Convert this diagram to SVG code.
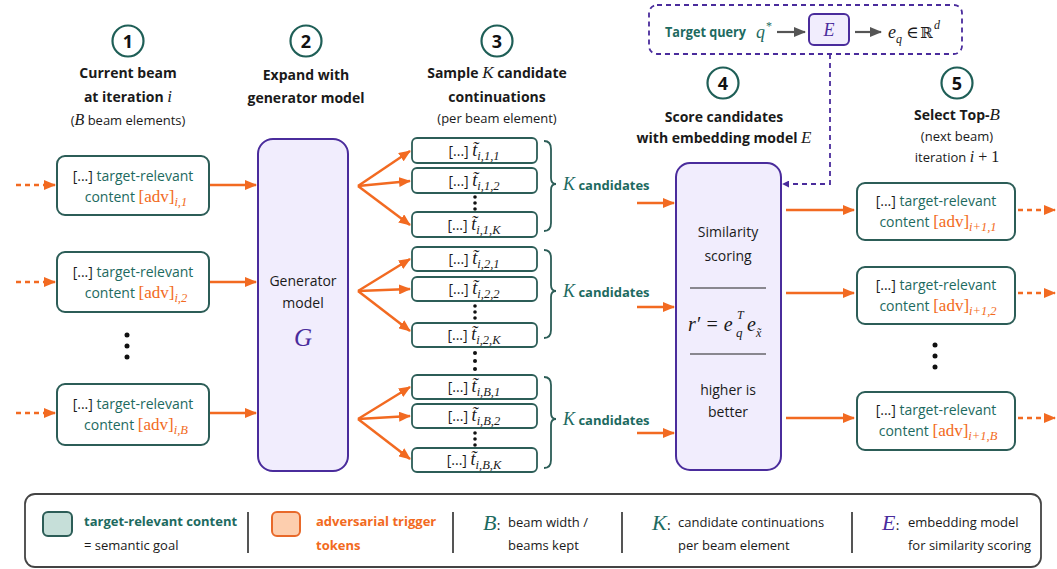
<svg xmlns="http://www.w3.org/2000/svg" width="1057" height="569" viewBox="0 0 1057 569">
<defs>
<style>
.sans{font-family:"Open Sans","Noto Sans","DejaVu Sans",sans-serif}
.math{font-family:"Liberation Serif","DejaVu Serif",serif;font-style:italic}
.rom{font-family:"Liberation Serif","DejaVu Serif",serif}
.b{font-weight:bold}
.teal{fill:#1d6a60}
.org{fill:#f26a21}
.pur{fill:#4a2c9c}
.blk{fill:#1a1a1a}
.step circle{fill:#fff;stroke:#1f5f57;stroke-width:2.2}
.step text{font-family:"Open Sans","Noto Sans",sans-serif;font-weight:bold;font-size:18px;fill:#111;text-anchor:middle}
.beam{fill:#fff;stroke:#2c5d57;stroke-width:2}
.cand{fill:#fff;stroke:#2c5d57;stroke-width:1.8}
.model{fill:#f1edfd;stroke:#4a2c9c;stroke-width:2}
.arr{stroke:#f26a21;stroke-width:2.5;fill:none;marker-end:url(#ah)}
.darr{stroke:#f26a21;stroke-width:2.5;fill:none;stroke-dasharray:5 4;marker-end:url(#ah)}
.brace{fill:none;stroke:#2c5d57;stroke-width:1.8}
.div{stroke:#555;stroke-width:2}
.sub{font-family:"Liberation Serif","DejaVu Serif",serif;font-style:italic;font-size:12.5px}
</style>
<marker id="ah" viewBox="0 0 12 10" refX="11" refY="5" markerWidth="12" markerHeight="10" markerUnits="userSpaceOnUse" orient="auto"><path d="M0,0 L12,5 L0,10 z" fill="#f26a21"/></marker>
<marker id="ahg" viewBox="0 0 12 10" refX="11" refY="5" markerWidth="12" markerHeight="10" markerUnits="userSpaceOnUse" orient="auto"><path d="M0,0 L12,5 L0,10 z" fill="#555"/></marker>
<marker id="ahp" viewBox="0 0 8 8" refX="7" refY="4" markerWidth="7" markerHeight="7" markerUnits="userSpaceOnUse" orient="auto"><path d="M0,0 L8,4 L0,8 z" fill="#4a2c9c"/></marker>
</defs>
<rect width="1057" height="569" fill="#fff"/>

<!-- step headers -->
<g id="step1" class="step"><circle cx="128" cy="41" r="15.5"/><text x="128" y="48">1</text></g>
<g id="step2" class="step"><circle cx="306" cy="41" r="15.5"/><text x="306" y="48">2</text></g>
<g id="step3" class="step"><circle cx="497" cy="41" r="15.5"/><text x="497" y="48">3</text></g>
<g id="step4" class="step"><circle cx="723" cy="83" r="15.5"/><text x="723" y="90">4</text></g>
<g id="step5" class="step"><circle cx="957" cy="83" r="15.5"/><text x="957" y="90">5</text></g>

<g id="titles" text-anchor="middle">
<text x="128" y="78" class="sans b blk" font-size="14">Current beam</text>
<text x="128" y="102" class="sans b blk" font-size="14">at iteration <tspan class="math" font-weight="normal" font-size="17">i</tspan></text>
<text x="128" y="125" class="sans blk" font-size="13">(<tspan class="math" font-size="16">B</tspan> beam elements)</text>
<text x="306" y="80" class="sans b blk" font-size="14">Expand with</text>
<text x="306" y="103" class="sans b blk" font-size="14">generator model</text>
<text x="497" y="78" class="sans b blk" font-size="14">Sample <tspan class="math" font-weight="normal" font-size="17">K</tspan> candidate</text>
<text x="497" y="102" class="sans b blk" font-size="14">continuations</text>
<text x="497" y="123" class="sans blk" font-size="13">(per beam element)</text>
<text x="724" y="122" class="sans b blk" font-size="14">Score candidates</text>
<text x="724" y="143" class="sans b blk" font-size="14">with embedding model <tspan class="math" font-weight="normal" font-size="17">E</tspan></text>
<text x="957" y="120" class="sans b blk" font-size="14">Select Top-<tspan class="math" font-weight="normal" font-size="17">B</tspan></text>
<text x="957" y="141" class="sans blk" font-size="13">(next beam)</text>
<text x="957" y="162" class="sans blk" font-size="13">iteration <tspan class="math" font-size="16">i</tspan><tspan class="rom" font-size="16"> + 1</tspan></text>
</g>

<!-- query box -->
<g id="query">
<rect x="649" y="5" width="313" height="49" rx="8" fill="none" stroke="#4a2c9c" stroke-width="1.8" stroke-dasharray="5 4"/>
<text x="665" y="37" class="sans b teal" font-size="14" textLength="81" lengthAdjust="spacingAndGlyphs">Target query</text>
<text x="756" y="38" class="math teal" font-size="18">q</text>
<text x="766" y="30" class="rom teal" font-size="12">*</text>
<line x1="777" y1="32" x2="805" y2="32" stroke="#555" stroke-width="2.2" marker-end="url(#ahg)"/>
<line x1="855" y1="32" x2="881" y2="32" stroke="#555" stroke-width="2.2" marker-end="url(#ahg)"/>
<text x="888" y="38" class="math blk" font-size="18">e</text>
<text x="896" y="43" class="math blk" font-size="12">q</text>
<text x="906" y="38" class="rom blk" font-size="17">∈</text>
<text x="920" y="38" font-family="DejaVu Serif,serif" class="blk" font-size="15">ℝ</text>
<text x="934" y="29" class="math blk" font-size="12">d</text>
</g>
<g id="E">
<rect x="809" y="14" width="40" height="31" rx="5" class="model"/>
<text x="829" y="36" text-anchor="middle" class="math pur" font-size="18">E</text>
</g>

<!-- current beam -->
<g id="beam1">
<rect x="57" y="156" width="152" height="59" rx="8" class="beam"/>
<text x="133" y="181" text-anchor="middle" font-size="14" class="sans"><tspan class="blk">[...]</tspan><tspan class="teal"> target-relevant</tspan></text>
<text x="136" y="202" text-anchor="middle" font-size="14" class="sans"><tspan class="teal">content  </tspan><tspan class="rom org" font-size="17">[adv]</tspan><tspan class="sub org" dy="4">i,1</tspan></text>
</g>
<g id="beam2">
<rect x="57" y="252" width="152" height="60" rx="8" class="beam"/>
<text x="133" y="277" text-anchor="middle" font-size="14" class="sans"><tspan class="blk">[...]</tspan><tspan class="teal"> target-relevant</tspan></text>
<text x="136" y="298" text-anchor="middle" font-size="14" class="sans"><tspan class="teal">content  </tspan><tspan class="rom org" font-size="17">[adv]</tspan><tspan class="sub org" dy="4">i,2</tspan></text>
</g>
<g id="beamB">
<rect x="57" y="384" width="152" height="61" rx="8" class="beam"/>
<text x="133" y="409" text-anchor="middle" font-size="14" class="sans"><tspan class="blk">[...]</tspan><tspan class="teal"> target-relevant</tspan></text>
<text x="136" y="430" text-anchor="middle" font-size="14" class="sans"><tspan class="teal">content  </tspan><tspan class="rom org" font-size="17">[adv]</tspan><tspan class="sub org" dy="4">i,B</tspan></text>
</g>
<g id="dots-left" fill="#111"><circle cx="127" cy="335" r="2.5"/><circle cx="127" cy="346" r="2.5"/><circle cx="127" cy="357" r="2.5"/></g>

<!-- generator -->
<g id="generator">
<rect x="258" y="139" width="90" height="332" rx="15" class="model"/>
<text x="303" y="286" text-anchor="middle" class="sans blk" font-size="14">Generator</text>
<text x="303" y="308" text-anchor="middle" class="sans blk" font-size="14">model</text>
<text x="303" y="346" text-anchor="middle" class="math pur" font-size="25">G</text>
</g>

<!-- candidates -->
<g id="cand-1">
<rect x="412" y="138" width="125" height="25" rx="5" class="cand"/>
<text x="474" y="156" text-anchor="middle" class="sans blk" font-size="14">[...] <tspan class="math" font-size="18">t̃</tspan><tspan class="sub" dy="4">i,1,1</tspan></text>
<rect x="412" y="168" width="125" height="25" rx="5" class="cand"/>
<text x="474" y="186" text-anchor="middle" class="sans blk" font-size="14">[...] <tspan class="math" font-size="18">t̃</tspan><tspan class="sub" dy="4">i,1,2</tspan></text>
<rect x="412" y="212" width="125" height="25" rx="5" class="cand"/>
<text x="474" y="230" text-anchor="middle" class="sans blk" font-size="14">[...] <tspan class="math" font-size="18">t̃</tspan><tspan class="sub" dy="4">i,1,K</tspan></text>
<g fill="#111"><circle cx="475" cy="197" r="1.8"/><circle cx="475" cy="203" r="1.8"/><circle cx="475" cy="209" r="1.8"/></g>
<path class="brace" d="M544,141 Q551,141 551,149 L551,178 Q551,184 556,184 Q551,184 551,190 L551,223 Q551,231 544,231"/>
<text x="563" y="190" class="teal"><tspan class="math" font-size="18">K</tspan><tspan class="sans b" font-size="13"> candidates</tspan></text>
</g>
<g id="cand-2">
<rect x="412" y="247" width="125" height="24" rx="5" class="cand"/>
<text x="474" y="264" text-anchor="middle" class="sans blk" font-size="14">[...] <tspan class="math" font-size="18">t̃</tspan><tspan class="sub" dy="4">i,2,1</tspan></text>
<rect x="412" y="277" width="125" height="24" rx="5" class="cand"/>
<text x="474" y="294" text-anchor="middle" class="sans blk" font-size="14">[...] <tspan class="math" font-size="18">t̃</tspan><tspan class="sub" dy="4">i,2,2</tspan></text>
<rect x="412" y="323" width="125" height="24" rx="5" class="cand"/>
<text x="474" y="340" text-anchor="middle" class="sans blk" font-size="14">[...] <tspan class="math" font-size="18">t̃</tspan><tspan class="sub" dy="4">i,2,K</tspan></text>
<g fill="#111"><circle cx="475" cy="306" r="1.8"/><circle cx="475" cy="312" r="1.8"/><circle cx="475" cy="318" r="1.8"/></g>
<path class="brace" d="M544,250 Q551,250 551,258 L551,285 Q551,291 556,291 Q551,291 551,297 L551,330 Q551,338 544,338"/>
<text x="563" y="297" class="teal"><tspan class="math" font-size="18">K</tspan><tspan class="sans b" font-size="13"> candidates</tspan></text>
</g>
<g id="dots-mid" fill="#111"><circle cx="475" cy="353" r="2"/><circle cx="475" cy="361" r="2"/><circle cx="475" cy="369" r="2"/></g>
<g id="cand-B">
<rect x="412" y="375" width="125" height="24" rx="5" class="cand"/>
<text x="474" y="392" text-anchor="middle" class="sans blk" font-size="14">[...] <tspan class="math" font-size="18">t̃</tspan><tspan class="sub" dy="4">i,B,1</tspan></text>
<rect x="412" y="404" width="125" height="24" rx="5" class="cand"/>
<text x="474" y="421" text-anchor="middle" class="sans blk" font-size="14">[...] <tspan class="math" font-size="18">t̃</tspan><tspan class="sub" dy="4">i,B,2</tspan></text>
<rect x="412" y="448" width="125" height="24" rx="5" class="cand"/>
<text x="474" y="465" text-anchor="middle" class="sans blk" font-size="14">[...] <tspan class="math" font-size="18">t̃</tspan><tspan class="sub" dy="4">i,B,K</tspan></text>
<g fill="#111"><circle cx="475" cy="433" r="1.8"/><circle cx="475" cy="439" r="1.8"/><circle cx="475" cy="445" r="1.8"/></g>
<path class="brace" d="M544,377 Q551,377 551,385 L551,413 Q551,419 556,419 Q551,419 551,425 L551,460 Q551,468 544,468"/>
<text x="563" y="425" class="teal"><tspan class="math" font-size="18">K</tspan><tspan class="sans b" font-size="13"> candidates</tspan></text>
</g>

<!-- scoring -->
<g id="scoring">
<rect x="676" y="163" width="105" height="307" rx="14" class="model"/>
<text x="728" y="237" text-anchor="middle" class="sans blk" font-size="14">Similarity</text>
<text x="728" y="261" text-anchor="middle" class="sans blk" font-size="14">scoring</text>
<line x1="690" y1="288" x2="766" y2="288" stroke="#222" stroke-width="1.2"/>
<text x="688" y="331" class="math blk" font-size="20">r′ = e</text>
<text x="737" y="319" class="math blk" font-size="12">T</text>
<text x="736" y="337" class="math blk" font-size="13">q</text>
<text x="747" y="331" class="math blk" font-size="20">e</text>
<text x="756" y="337" class="math blk" font-size="12">x̃</text>
<line x1="690" y1="354" x2="766" y2="354" stroke="#222" stroke-width="1.2"/>
<text x="728" y="395" text-anchor="middle" class="sans blk" font-size="14">higher is</text>
<text x="728" y="417" text-anchor="middle" class="sans blk" font-size="14">better</text>
</g>

<!-- next beam -->
<g id="next1">
<rect x="857" y="183" width="158" height="57" rx="8" class="beam"/>
<text x="936" y="206" text-anchor="middle" font-size="14" class="sans"><tspan class="blk">[...]</tspan><tspan class="teal"> target-relevant</tspan></text>
<text x="938" y="227" text-anchor="middle" font-size="14" class="sans"><tspan class="teal">content  </tspan><tspan class="rom org" font-size="17">[adv]</tspan><tspan class="sub org" dy="4">i+1,1</tspan></text>
</g>
<g id="next2">
<rect x="857" y="267" width="158" height="57" rx="8" class="beam"/>
<text x="936" y="290" text-anchor="middle" font-size="14" class="sans"><tspan class="blk">[...]</tspan><tspan class="teal"> target-relevant</tspan></text>
<text x="938" y="311" text-anchor="middle" font-size="14" class="sans"><tspan class="teal">content  </tspan><tspan class="rom org" font-size="17">[adv]</tspan><tspan class="sub org" dy="4">i+1,2</tspan></text>
</g>
<g id="nextB">
<rect x="857" y="392" width="158" height="58" rx="8" class="beam"/>
<text x="936" y="415" text-anchor="middle" font-size="14" class="sans"><tspan class="blk">[...]</tspan><tspan class="teal"> target-relevant</tspan></text>
<text x="938" y="436" text-anchor="middle" font-size="14" class="sans"><tspan class="teal">content  </tspan><tspan class="rom org" font-size="17">[adv]</tspan><tspan class="sub org" dy="4">i+1,B</tspan></text>
</g>
<g id="dots-right" fill="#111"><circle cx="935" cy="345" r="2.5"/><circle cx="935" cy="356" r="2.5"/><circle cx="935" cy="367" r="2.5"/></g>

<!-- connectors -->
<g id="connectors">
<line class="darr" x1="16" y1="185" x2="55" y2="185"/>
<line class="darr" x1="16" y1="282" x2="55" y2="282"/>
<line class="darr" x1="16" y1="413" x2="55" y2="413"/>
<line class="arr" x1="210" y1="185" x2="256" y2="185"/>
<line class="arr" x1="210" y1="282" x2="256" y2="282"/>
<line class="arr" x1="210" y1="413" x2="256" y2="413"/>
<path class="arr" d="M358,186 L410,151"/>
<path class="arr" d="M358,186 L410,181"/>
<path class="arr" d="M358,186 L410,225"/>
<path class="arr" d="M358,291 L410,259"/>
<path class="arr" d="M358,291 L410,289"/>
<path class="arr" d="M358,291 L410,331"/>
<path class="arr" d="M358,419 L410,387"/>
<path class="arr" d="M358,419 L410,416"/>
<path class="arr" d="M358,419 L410,459"/>
<line class="arr" x1="637" y1="203" x2="674" y2="203"/>
<line class="arr" x1="637" y1="307" x2="674" y2="307"/>
<line class="arr" x1="637" y1="433" x2="674" y2="433"/>
<line class="arr" x1="786" y1="210" x2="854" y2="210"/>
<line class="arr" x1="786" y1="293" x2="854" y2="293"/>
<line class="arr" x1="786" y1="418" x2="854" y2="418"/>
<line class="darr" x1="1018" y1="210" x2="1055" y2="210"/>
<line class="darr" x1="1018" y1="293" x2="1055" y2="293"/>
<line class="darr" x1="1018" y1="418" x2="1055" y2="418"/>
<path d="M830,54 L830,184 L783,184" fill="none" stroke="#4a2c9c" stroke-width="1.8" stroke-dasharray="5 4" marker-end="url(#ahp)"/>
</g>

<!-- legend -->
<g id="legend">
<rect x="25" y="494" width="1016" height="73" rx="10" fill="#fff" stroke="#444" stroke-width="1.8"/>
<rect x="43" y="512" width="29" height="24" rx="5" fill="#c6dfd9" stroke="#2c5d57" stroke-width="2"/>
<text x="84" y="526" class="sans b teal" font-size="13">target-relevant content</text>
<text x="84" y="550" class="sans blk" font-size="13">= semantic goal</text>
<line class="div" x1="248" y1="512" x2="248" y2="553"/>
<rect x="272" y="512" width="28" height="24" rx="5" fill="#fdceae" stroke="#e8692a" stroke-width="2"/>
<text x="316" y="526" class="sans b org" font-size="13">adversarial trigger</text>
<text x="316" y="550" class="sans b org" font-size="13">tokens</text>
<line class="div" x1="453" y1="512" x2="453" y2="553"/>
<text x="483" y="530" class="teal"><tspan class="math" font-size="22">B</tspan><tspan class="rom blk" font-size="15">:</tspan></text>
<text x="508" y="527" class="sans blk" font-size="13">beam width /</text>
<text x="508" y="550" class="sans blk" font-size="13">beams kept</text>
<line class="div" x1="622" y1="512" x2="622" y2="553"/>
<text x="652" y="530" class="teal"><tspan class="math" font-size="22">K</tspan><tspan class="rom blk" font-size="15">:</tspan></text>
<text x="678" y="527" class="sans blk" font-size="13">candidate continuations</text>
<text x="678" y="550" class="sans blk" font-size="13">per beam element</text>
<line class="div" x1="852" y1="512" x2="852" y2="553"/>
<text x="882" y="530" class="pur"><tspan class="math" font-size="22">E</tspan><tspan class="rom blk" font-size="15">:</tspan></text>
<text x="908" y="527" class="sans blk" font-size="13">embedding model</text>
<text x="908" y="550" class="sans blk" font-size="13">for similarity scoring</text>
</g>
</svg>
